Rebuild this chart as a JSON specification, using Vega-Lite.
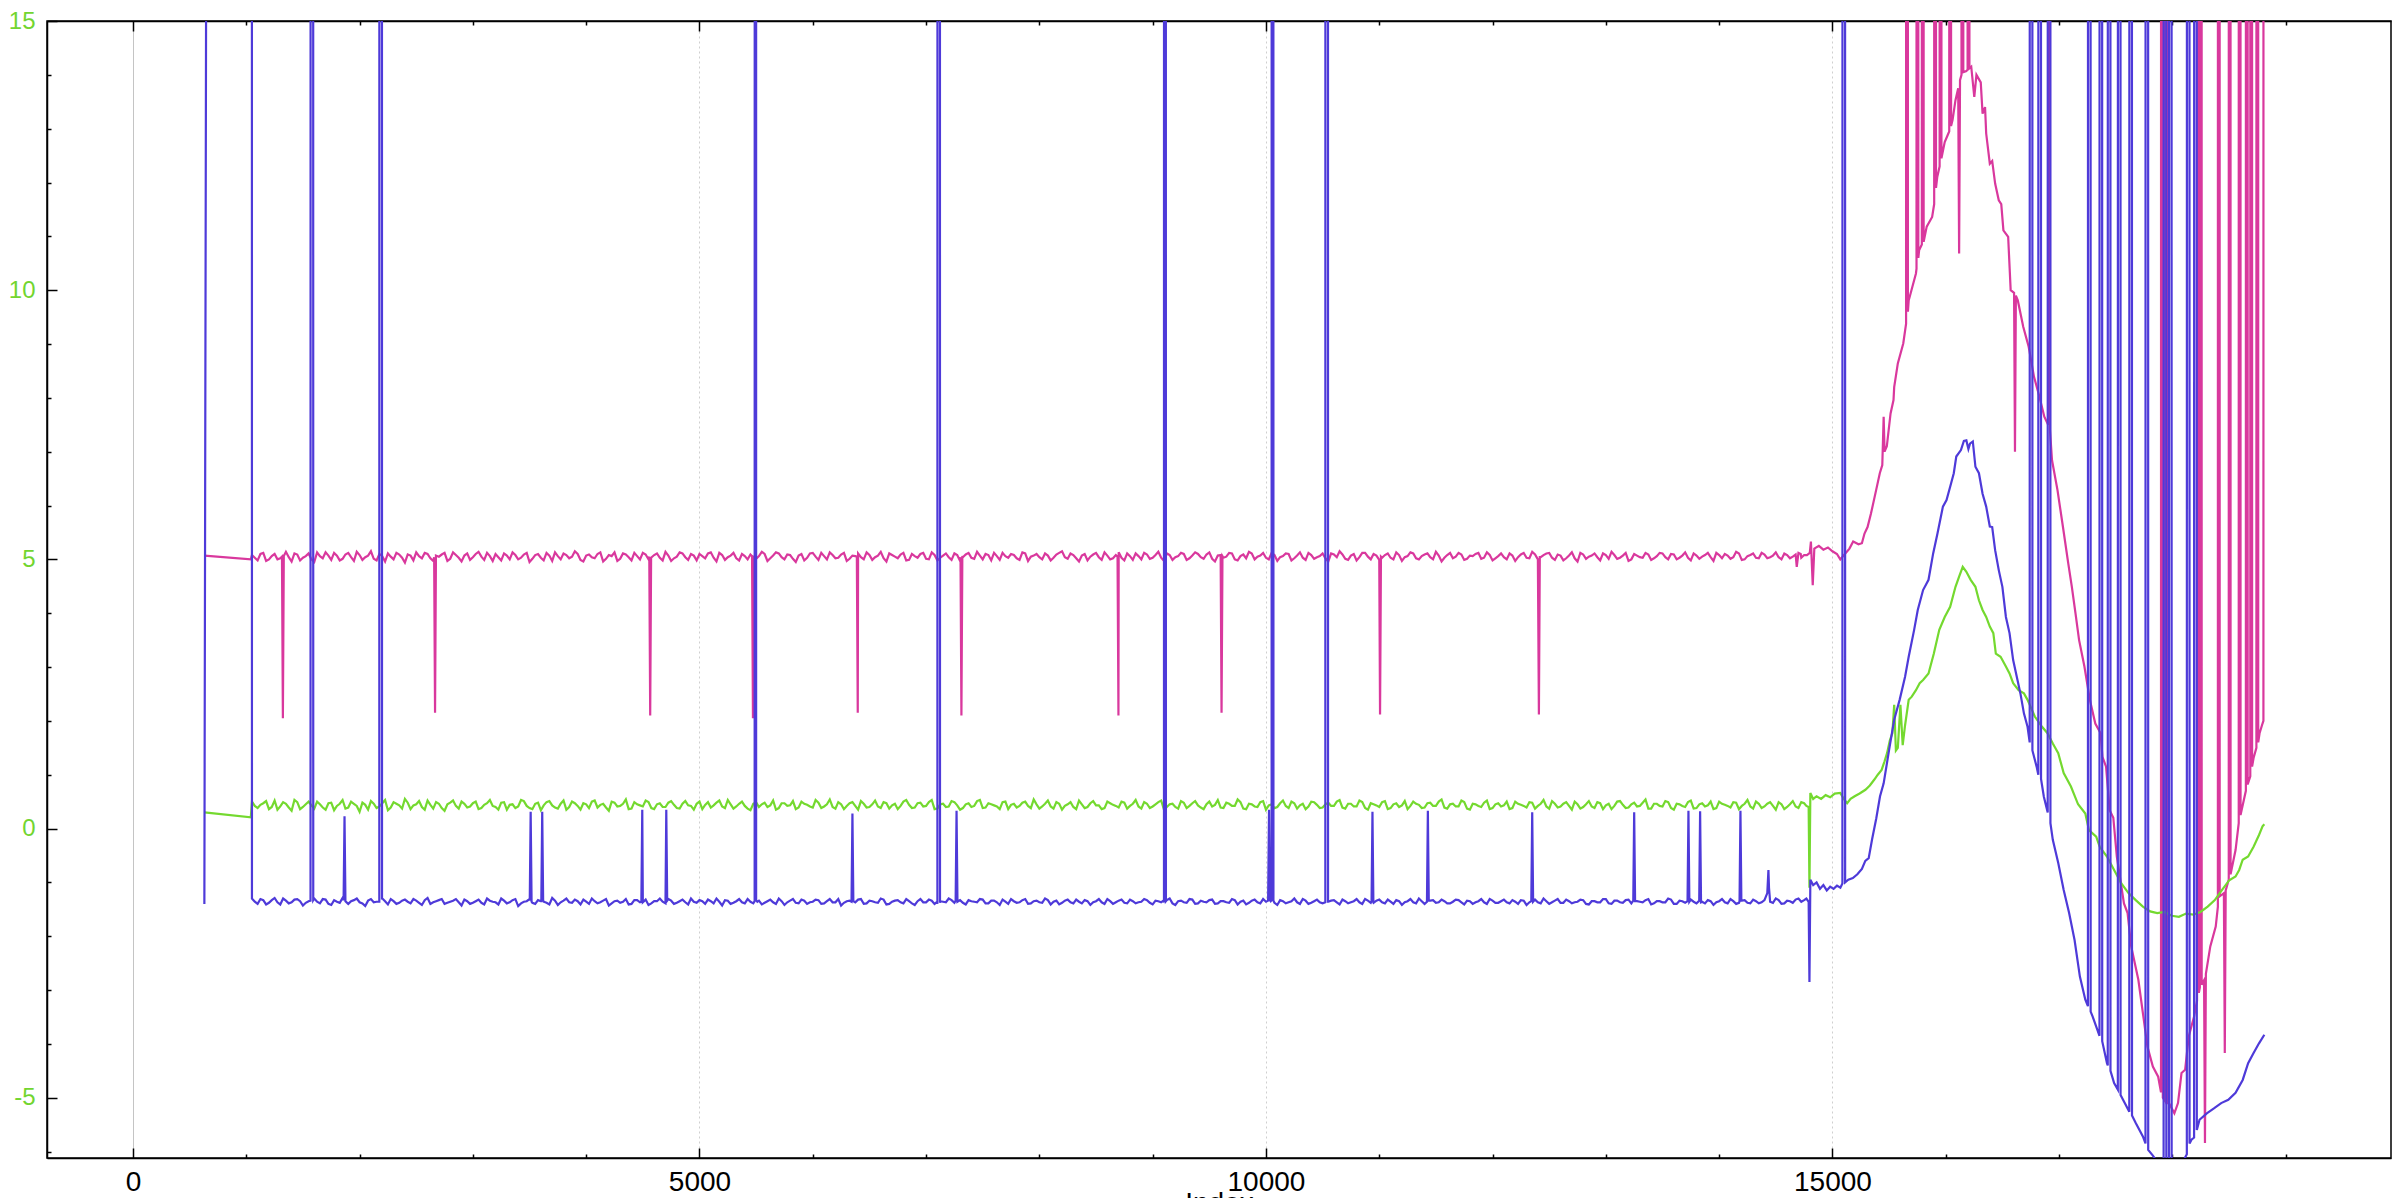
{
  "$schema": "https://vega.github.io/schema/vega-lite/v6.json",
  "width": 2344,
  "height": 1137,
  "autosize": {"type": "none"},
  "padding": {"left": 47, "top": 21, "right": 15, "bottom": 40},
  "background": "white",
  "config": {"view": {"stroke": "black", "strokeWidth": 1.5}, "font": "Liberation Sans"},
  "data": {"values": [
    {"i":630,"p":5.07,"g":0.3,"b":-1.4},{"i":1040,"p":5.0,"g":0.21,"b":450},
    {"i":1050,"p":5.08,"g":0.50,"b":-1.30},{"i":1100,"p":4.98,"g":0.38,"b":-1.40},{"i":1150,"p":5.12,"g":0.47,"b":-1.33},{"i":1200,"p":5.00,"g":0.36,"b":-1.38},{"i":1250,"p":5.10,"g":0.52,"b":-1.29},
    {"i":1300,"p":5.02,"g":0.41,"b":-1.41},{"i":1350,"p":5.14,"g":0.46,"b":-1.34},{"i":1400,"p":4.96,"g":0.33,"b":-1.37},{"i":1450,"p":5.09,"g":0.49,"b":-1.31},{"i":1500,"p":5.03,"g":0.40,"b":-1.43},
    {"i":1550,"p":5.11,"g":0.50,"b":-1.35},{"i":1600,"p":4.95,"g":0.37,"b":-1.30},{"i":1650,"p":5.06,"g":0.45,"b":-1.39},{"i":1700,"p":5.13,"g":0.35,"b":-1.32},{"i":1750,"p":4.99,"g":0.48,"b":-1.42},
    {"i":1800,"p":5.07,"g":0.42,"b":-1.36},{"i":1850,"p":5.01,"g":0.53,"b":-1.29},{"i":1900,"p":5.12,"g":0.39,"b":-1.40},{"i":1950,"p":4.97,"g":0.46,"b":-1.33},{"i":2000,"p":5.08,"g":0.31,"b":-1.37},
    {"i":2050,"p":5.04,"g":0.44,"b":-1.44},{"i":2100,"p":5.15,"g":0.51,"b":-1.31},{"i":2150,"p":4.98,"g":0.38,"b":-1.36},{"i":2200,"p":5.06,"g":0.47,"b":-1.30},{"i":2250,"p":5.11,"g":0.34,"b":-1.41},
    {"i":2300,"p":5.00,"g":0.49,"b":-1.35},{"i":2350,"p":5.09,"g":0.43,"b":-1.38},{"i":2400,"p":4.94,"g":0.55,"b":-1.32},{"i":2450,"p":5.07,"g":0.36,"b":-1.39},{"i":2500,"p":5.13,"g":0.45,"b":-1.34},
    {"i":2550,"p":5.02,"g":0.40,"b":-1.42},{"i":2600,"p":5.10,"g":0.52,"b":-1.29},{"i":2650,"p":4.97,"g":0.37,"b":-1.37},{"i":2700,"p":5.05,"g":0.46,"b":-1.33},{"i":2750,"p":5.12,"g":0.33,"b":-1.40},
    {"i":2800,"p":5.01,"g":0.48,"b":-1.36},{"i":2850,"p":5.08,"g":0.42,"b":-1.31},{"i":2900,"p":4.96,"g":0.50,"b":-1.43},{"i":2950,"p":5.11,"g":0.39,"b":-1.35},{"i":3000,"p":5.04,"g":0.47,"b":-1.38},
    {"i":3050,"p":5.14,"g":0.36,"b":-1.32},{"i":3100,"p":4.99,"g":0.44,"b":-1.41},{"i":3150,"p":5.06,"g":0.53,"b":-1.34},{"i":3200,"p":5.10,"g":0.40,"b":-1.37},{"i":3250,"p":4.98,"g":0.48,"b":-1.30},
    {"i":3300,"p":5.07,"g":0.35,"b":-1.39},{"i":3350,"p":5.13,"g":0.45,"b":-1.33},{"i":3400,"p":5.00,"g":0.41,"b":-1.44},{"i":3450,"p":5.09,"g":0.51,"b":-1.36},{"i":3500,"p":4.95,"g":0.38,"b":-1.31},
    {"i":3550,"p":5.08,"g":0.46,"b":-1.40},{"i":3600,"p":5.03,"g":0.34,"b":-1.35},{"i":3650,"p":5.12,"g":0.49,"b":-1.38},{"i":3700,"p":4.97,"g":0.43,"b":-1.29},{"i":3750,"p":5.06,"g":0.37,"b":-1.42},
    {"i":3800,"p":5.11,"g":0.52,"b":-1.34},{"i":3850,"p":5.02,"g":0.40,"b":-1.37},{"i":3900,"p":5.15,"g":0.47,"b":-1.32},{"i":3950,"p":4.99,"g":0.35,"b":-1.41},{"i":4000,"p":5.07,"g":0.45,"b":-1.36},
    {"i":4050,"p":5.04,"g":0.50,"b":-1.30},{"i":4100,"p":5.10,"g":0.39,"b":-1.39},{"i":4150,"p":4.96,"g":0.46,"b":-1.34},{"i":4200,"p":5.08,"g":0.33,"b":-1.43},{"i":4250,"p":5.13,"g":0.48,"b":-1.35},
    {"i":4300,"p":5.01,"g":0.42,"b":-1.38},{"i":4350,"p":5.09,"g":0.54,"b":-1.31},{"i":4400,"p":4.98,"g":0.37,"b":-1.40},{"i":4450,"p":5.06,"g":0.45,"b":-1.33},{"i":4500,"p":5.12,"g":0.41,"b":-1.37},
    {"i":4550,"p":5.00,"g":0.49,"b":-1.42},{"i":4600,"p":5.08,"g":0.36,"b":-1.35},{"i":4650,"p":5.03,"g":0.47,"b":-1.30},{"i":4700,"p":5.14,"g":0.40,"b":-1.39},{"i":4750,"p":4.97,"g":0.51,"b":-1.34},
    {"i":4800,"p":5.05,"g":0.38,"b":-1.38},{"i":4850,"p":5.11,"g":0.46,"b":-1.32},{"i":4900,"p":4.99,"g":0.43,"b":-1.41},{"i":4950,"p":5.07,"g":0.35,"b":-1.36},{"i":5000,"p":5.10,"g":0.50,"b":-1.33},
    {"i":5050,"p":5.02,"g":0.44,"b":-1.40},{"i":5100,"p":5.13,"g":0.39,"b":-1.35},{"i":5150,"p":4.96,"g":0.48,"b":-1.30},{"i":5200,"p":5.08,"g":0.41,"b":-1.43},{"i":5250,"p":5.04,"g":0.53,"b":-1.34},
    {"i":5300,"p":5.12,"g":0.37,"b":-1.38},{"i":5350,"p":4.98,"g":0.46,"b":-1.31},{"i":5400,"p":5.06,"g":0.42,"b":-1.39},{"i":5450,"p":5.09,"g":0.34,"b":-1.36},{"i":5500,"p":5.01,"g":0.49,"b":-1.33},
    {"i":5550,"p":5.14,"g":0.45,"b":-1.41},{"i":5600,"p":4.97,"g":0.40,"b":-1.35},{"i":5650,"p":5.07,"g":0.52,"b":-1.37},{"i":5700,"p":5.11,"g":0.38,"b":-1.30},{"i":5750,"p":5.00,"g":0.47,"b":-1.42},
    {"i":5800,"p":5.08,"g":0.43,"b":-1.34},{"i":5850,"p":4.95,"g":0.36,"b":-1.38},{"i":5900,"p":5.10,"g":0.50,"b":-1.32},{"i":5950,"p":5.03,"g":0.44,"b":-1.40},{"i":6000,"p":5.12,"g":0.39,"b":-1.36},
    {"i":6050,"p":4.99,"g":0.48,"b":-1.33},{"i":6100,"p":5.06,"g":0.41,"b":-1.39},{"i":6150,"p":5.13,"g":0.54,"b":-1.31},{"i":6200,"p":5.02,"g":0.37,"b":-1.37},{"i":6250,"p":5.09,"g":0.45,"b":-1.43},
    {"i":6300,"p":4.97,"g":0.42,"b":-1.35},{"i":6350,"p":5.07,"g":0.49,"b":0.28},{"i":6400,"p":5.11,"g":0.35,"b":-1.32},{"i":6450,"p":5.00,"g":0.46,"b":-1.40},{"i":6500,"p":5.08,"g":0.40,"b":-1.34},
    {"i":6550,"p":5.04,"g":0.52,"b":-1.37},{"i":6600,"p":5.14,"g":0.38,"b":-1.30},{"i":6650,"p":4.96,"g":0.47,"b":-1.41},{"i":6700,"p":5.08,"g":0.43,"b":-1.36},{"i":6750,"p":5.02,"g":0.36,"b":-1.33},
    {"i":6800,"p":5.12,"g":0.50,"b":-1.39},{"i":6850,"p":4.99,"g":0.44,"b":-1.35},{"i":6900,"p":5.06,"g":0.39,"b":-1.42},{"i":6950,"p":5.10,"g":0.48,"b":-1.31},{"i":7000,"p":5.01,"g":0.42,"b":-1.37},
    {"i":7050,"p":5.13,"g":0.53,"b":-1.34},{"i":7100,"p":4.98,"g":0.37,"b":-1.40},{"i":7150,"p":5.07,"g":0.46,"b":-1.36},{"i":7200,"p":5.04,"g":0.41,"b":-1.30},{"i":7250,"p":5.11,"g":0.49,"b":-1.38},
    {"i":7300,"p":4.97,"g":0.35,"b":-1.33},{"i":7350,"p":5.09,"g":0.45,"b":-1.41},{"i":7400,"p":5.03,"g":0.40,"b":-1.35},{"i":7450,"p":5.14,"g":0.51,"b":-1.37},{"i":7500,"p":5.00,"g":0.38,"b":-1.32},
    {"i":7550,"p":5.08,"g":0.47,"b":-1.39},{"i":7600,"p":5.12,"g":0.43,"b":-1.34},{"i":7650,"p":4.99,"g":0.36,"b":-1.42},{"i":7700,"p":5.06,"g":0.50,"b":-1.36},{"i":7750,"p":5.10,"g":0.44,"b":-1.31},
    {"i":7800,"p":5.02,"g":0.39,"b":-1.38},{"i":7850,"p":5.13,"g":0.48,"b":-1.33},{"i":7900,"p":4.97,"g":0.42,"b":-1.40},{"i":7950,"p":5.07,"g":0.54,"b":-1.35},{"i":8000,"p":5.04,"g":0.37,"b":-1.37},
    {"i":8050,"p":5.11,"g":0.46,"b":-1.30},{"i":8100,"p":4.98,"g":0.41,"b":-1.41},{"i":8150,"p":5.09,"g":0.49,"b":-1.34},{"i":8200,"p":5.15,"g":0.35,"b":-1.38},{"i":8250,"p":5.01,"g":0.45,"b":-1.32},
    {"i":8300,"p":5.08,"g":0.40,"b":-1.39},{"i":8350,"p":4.96,"g":0.52,"b":-1.36},{"i":8400,"p":5.10,"g":0.38,"b":-1.33},{"i":8450,"p":5.05,"g":0.47,"b":-1.42},{"i":8500,"p":5.12,"g":0.43,"b":-1.35},
    {"i":8550,"p":4.99,"g":0.36,"b":-1.37},{"i":8600,"p":5.07,"g":0.50,"b":-1.31},{"i":8650,"p":5.02,"g":0.44,"b":-1.40},{"i":8700,"p":5.13,"g":0.39,"b":-1.34},{"i":8750,"p":4.98,"g":0.48,"b":-1.38},
    {"i":8800,"p":5.06,"g":0.42,"b":-1.32},{"i":8850,"p":5.11,"g":0.53,"b":-1.39},{"i":8900,"p":5.00,"g":0.37,"b":-1.36},{"i":8950,"p":5.09,"g":0.46,"b":-1.33},{"i":9000,"p":5.03,"g":0.41,"b":-1.41},
    {"i":9050,"p":5.14,"g":0.49,"b":-1.35},{"i":9100,"p":4.97,"g":0.35,"b":-1.37},{"i":9150,"p":5.08,"g":0.45,"b":-1.30},{"i":9200,"p":5.04,"g":0.40,"b":-1.42},{"i":9250,"p":5.12,"g":0.51,"b":-1.34},
    {"i":9300,"p":4.99,"g":0.38,"b":-1.38},{"i":9350,"p":5.07,"g":0.47,"b":-1.32},{"i":9400,"p":5.10,"g":0.43,"b":-1.39},{"i":9450,"p":5.01,"g":0.36,"b":-1.36},{"i":9500,"p":5.13,"g":0.50,"b":-1.33},
    {"i":9550,"p":4.96,"g":0.44,"b":-1.40},{"i":9600,"p":5.08,"g":0.39,"b":-1.35},{"i":9650,"p":5.05,"g":0.48,"b":-1.37},{"i":9700,"p":5.11,"g":0.42,"b":-1.31},{"i":9750,"p":4.98,"g":0.54,"b":-1.41},
    {"i":9800,"p":5.09,"g":0.37,"b":-1.34},{"i":9850,"p":5.14,"g":0.46,"b":-1.38},{"i":9900,"p":5.00,"g":0.41,"b":-1.32},{"i":9950,"p":5.07,"g":0.49,"b":-1.39},{"i":10000,"p":5.03,"g":0.35,"b":-1.36},
    {"i":10050,"p":5.12,"g":0.45,"b":-1.33},{"i":10100,"p":4.97,"g":0.40,"b":-1.42},{"i":10150,"p":5.06,"g":0.52,"b":-1.35},{"i":10200,"p":5.10,"g":0.38,"b":-1.37},{"i":10250,"p":5.02,"g":0.47,"b":-1.30},
    {"i":10300,"p":5.13,"g":0.43,"b":-1.40},{"i":10350,"p":4.99,"g":0.36,"b":-1.34},{"i":10400,"p":5.08,"g":0.50,"b":-1.38},{"i":10450,"p":5.04,"g":0.44,"b":-1.32},{"i":10500,"p":5.11,"g":0.39,"b":-1.39},
    {"i":10550,"p":4.96,"g":0.48,"b":-1.36},{"i":10600,"p":5.09,"g":0.42,"b":-1.33},{"i":10650,"p":5.15,"g":0.53,"b":-1.41},{"i":10700,"p":5.01,"g":0.37,"b":-1.35},{"i":10750,"p":5.07,"g":0.46,"b":-1.37},
    {"i":10800,"p":4.98,"g":0.41,"b":-1.31},{"i":10850,"p":5.12,"g":0.49,"b":-1.40},{"i":10900,"p":5.05,"g":0.35,"b":-1.34},{"i":10950,"p":5.10,"g":0.45,"b":-1.38},{"i":11000,"p":4.99,"g":0.40,"b":-1.32},
    {"i":11050,"p":5.08,"g":0.51,"b":-1.39},{"i":11100,"p":5.03,"g":0.38,"b":-1.36},{"i":11150,"p":5.13,"g":0.47,"b":-1.33},{"i":11200,"p":4.97,"g":0.43,"b":-1.42},{"i":11250,"p":5.06,"g":0.36,"b":-1.35},
    {"i":11300,"p":5.11,"g":0.50,"b":-1.37},{"i":11350,"p":5.00,"g":0.44,"b":-1.30},{"i":11400,"p":5.09,"g":0.39,"b":-1.40},{"i":11450,"p":5.04,"g":0.48,"b":-1.34},{"i":11500,"p":5.14,"g":0.42,"b":-1.38},
    {"i":11550,"p":4.96,"g":0.54,"b":-1.32},{"i":11600,"p":5.08,"g":0.37,"b":-1.39},{"i":11650,"p":5.02,"g":0.46,"b":-1.36},{"i":11700,"p":5.12,"g":0.41,"b":-1.33},{"i":11750,"p":4.99,"g":0.49,"b":-1.41},
    {"i":11800,"p":5.07,"g":0.35,"b":-1.35},{"i":11850,"p":5.10,"g":0.45,"b":-1.37},{"i":11900,"p":5.01,"g":0.40,"b":-1.31},{"i":11950,"p":5.13,"g":0.52,"b":-1.40},{"i":12000,"p":4.98,"g":0.38,"b":-1.34},
    {"i":12050,"p":5.06,"g":0.47,"b":-1.38},{"i":12100,"p":5.04,"g":0.43,"b":-1.32},{"i":12150,"p":5.11,"g":0.36,"b":-1.39},{"i":12200,"p":4.97,"g":0.50,"b":-1.36},{"i":12250,"p":5.09,"g":0.44,"b":-1.33},
    {"i":12300,"p":5.03,"g":0.39,"b":-1.42},{"i":12350,"p":5.14,"g":0.48,"b":0.3},{"i":12400,"p":5.00,"g":0.42,"b":-1.37},{"i":12450,"p":5.08,"g":0.53,"b":-1.30},{"i":12500,"p":5.12,"g":0.37,"b":-1.40},
    {"i":12550,"p":4.99,"g":0.46,"b":-1.34},{"i":12600,"p":5.07,"g":0.41,"b":-1.38},{"i":12650,"p":5.02,"g":0.49,"b":-1.32},{"i":12700,"p":5.13,"g":0.35,"b":-1.39},{"i":12750,"p":4.96,"g":0.45,"b":-1.36},
    {"i":12800,"p":5.09,"g":0.40,"b":-1.33},{"i":12850,"p":5.05,"g":0.51,"b":-1.41},{"i":12900,"p":5.11,"g":0.38,"b":-1.35},{"i":12950,"p":4.98,"g":0.47,"b":-1.37},{"i":13000,"p":5.08,"g":0.43,"b":-1.31},
    {"i":13050,"p":5.14,"g":0.36,"b":-1.40},{"i":13100,"p":5.01,"g":0.50,"b":-1.34},{"i":13150,"p":5.07,"g":0.44,"b":-1.38},{"i":13200,"p":4.97,"g":0.39,"b":-1.32},{"i":13250,"p":5.10,"g":0.48,"b":0.3},
    {"i":13300,"p":5.04,"g":0.42,"b":-1.36},{"i":13350,"p":5.12,"g":0.54,"b":-1.33},{"i":13400,"p":4.99,"g":0.37,"b":-1.41},{"i":13450,"p":5.06,"g":0.46,"b":-1.35},{"i":13500,"p":5.11,"g":0.41,"b":-1.37},
    {"i":13550,"p":5.00,"g":0.49,"b":-1.30},{"i":13600,"p":5.09,"g":0.35,"b":-1.40},{"i":13650,"p":5.03,"g":0.45,"b":-1.34},{"i":13700,"p":5.13,"g":0.40,"b":-1.38},{"i":13750,"p":4.98,"g":0.52,"b":-1.32},
    {"i":13800,"p":5.07,"g":0.38,"b":-1.39},{"i":13850,"p":5.05,"g":0.47,"b":-1.36},{"i":13900,"p":5.12,"g":0.43,"b":-1.33},{"i":13950,"p":4.97,"g":0.36,"b":-1.42},{"i":14000,"p":5.08,"g":0.50,"b":-1.35},
    {"i":14050,"p":5.10,"g":0.44,"b":-1.37},{"i":14100,"p":5.01,"g":0.39,"b":-1.31},{"i":14150,"p":5.14,"g":0.48,"b":-1.40},{"i":14200,"p":4.99,"g":0.42,"b":-1.34},{"i":14250,"p":5.06,"g":0.53,"b":-1.38},
    {"i":14300,"p":5.11,"g":0.37,"b":-1.32},{"i":14350,"p":5.02,"g":0.46,"b":-1.39},{"i":14400,"p":5.09,"g":0.41,"b":-1.33},{"i":14450,"p":5.04,"g":0.49,"b":-1.36},{"i":14500,"p":5.13,"g":0.35,"b":-1.30},
    {"i":14550,"p":5.00,"g":0.45,"b":-1.40},{"i":14600,"p":5.08,"g":0.40,"b":-1.34},{"i":14650,"p":5.05,"g":0.51,"b":-1.38},{"i":14700,"p":5.12,"g":0.38,"b":-1.30},{"i":14750,"p":5.08,"g":0.47,"b":-1.33},

    {"i":1075,"p":5.03,"g":0.42,"b":-1.36},{"i":1125,"p":5.10,"g":0.44,"b":-1.31},{"i":1175,"p":4.97,"g":0.51,"b":-1.41},{"i":1225,"p":5.06,"g":0.40,"b":-1.33},{"i":1275,"p":5.00,"g":0.35,"b":-1.37},
    {"i":1325,"g":0.49,"b":-1.30},{"i":1375,"p":5.04,"g":0.39,"b":-1.39},{"i":1425,"p":5.11,"g":0.53,"b":-1.32},{"i":1475,"p":4.98,"g":0.36,"b":-1.35},{"i":1525,"p":5.06,"g":0.45,"b":-1.38},
    {"i":1575,"p":5.00,"g":0.43},{"i":1625,"p":5.13,"g":0.50,"b":-1.36},{"i":1675,"p":5.02,"g":0.39,"b":-1.31},{"i":1725,"p":5.07,"g":0.47,"b":-1.40},{"i":1775,"p":5.12,"g":0.34,"b":-1.33},
    {"i":1825,"p":4.98,"g":0.46,"b":-1.38},{"i":1875,"p":5.09,"g":0.37},{"i":1925,"p":5.04,"g":0.50,"b":-1.35},{"i":1975,"p":5.14,"g":0.42,"b":-1.30},{"i":2025,"p":4.99,"g":0.48,"b":-1.39},
    {"i":2075,"p":5.07,"g":0.35,"b":-1.34},{"i":2125,"p":5.01,"g":0.46,"b":-1.37},{"i":2175,"p":5.10,"g":0.41},{"i":2225,"p":4.96,"g":0.53,"b":-1.35},{"i":2275,"p":5.05,"g":0.39,"b":-1.31},
    {"i":2325,"p":5.12,"g":0.46,"b":-1.40},{"i":2375,"p":5.03,"g":0.37,"b":-1.34},{"i":2425,"p":5.09,"g":0.48,"b":-1.36},{"i":2475,"p":4.98,"g":0.43,"b":-1.31},{"i":2525,"p":5.06,"g":0.51,"b":-1.38},
    {"i":2575,"p":5.12,"g":0.35,"b":-1.33},{"i":2625,"p":5.02,"g":0.44,"b":-1.40},{"i":2675,"g":0.49,"b":-1.35},{"i":2725,"p":5.09,"g":0.38,"b":-1.31},{"i":2775,"p":4.97,"g":0.45,"b":-1.38},
    {"i":2825,"p":5.13,"g":0.52,"b":-1.34},{"i":2875,"p":5.03,"g":0.37,"b":-1.37},{"i":2925,"p":5.07,"g":0.46,"b":-1.32},{"i":2975,"p":4.99,"g":0.41,"b":-1.40},{"i":3025,"p":5.10,"g":0.50,"b":-1.35},
    {"i":3075,"p":5.05,"g":0.38,"b":-1.38},{"i":3125,"p":5.12,"g":0.47,"b":-1.30},{"i":3175,"p":4.97,"g":0.42,"b":-1.36},{"i":3225,"p":5.04,"g":0.35,"b":-1.41},{"i":3275,"p":5.11,"g":0.49,"b":-1.34},
    {"i":3325,"p":5.00,"g":0.44,"b":-1.37},{"i":3375,"p":5.08,"g":0.38,"b":-1.31},{"i":3425,"p":5.03,"g":0.53,"b":-1.39},{"i":3475,"p":5.12,"g":0.42,"b":-1.35},{"i":3525,"p":5.01,"g":0.36,"b":-1.38},
    {"i":3575,"p":5.10,"g":0.48,"b":-1.33},{"i":3625,"p":4.98,"g":0.43,"b":-1.36},{"i":3675,"p":5.07,"g":0.51,"b":-1.41},{"i":3725,"p":5.13,"g":0.39,"b":-1.34},{"i":3775,"p":5.00,"g":0.46,"b":-1.37},
    {"i":3825,"p":5.08,"g":0.35,"b":-1.30},{"i":3875,"p":5.05,"g":0.50,"b":-1.38},{"i":3925,"p":5.10,"g":0.42,"b":-1.35},{"i":3975,"p":4.96,"g":0.47,"b":-1.32},{"i":4025,"p":5.09,"g":0.38,"b":-1.40},
    {"i":4075,"p":5.02,"g":0.52,"b":-1.35},{"i":4125,"p":5.13,"g":0.44,"b":-1.37},{"i":4175,"p":5.01,"g":0.39,"b":-1.31},{"i":4225,"p":5.06,"g":0.50,"b":-1.39},{"i":4275,"p":4.97,"g":0.41,"b":-1.34},
    {"i":4325,"p":5.11,"g":0.46,"b":-1.36},{"i":4375,"p":5.04,"g":0.36,"b":-1.41},{"i":4425,"p":5.12,"g":0.49,"b":-1.33},{"i":4475,"p":5.00,"g":0.43,"b":-1.37},{"i":4525,"p":5.09,"g":0.52,"b":-1.32},
    {"i":4575,"g":0.38,"b":-1.39},{"i":4625,"p":5.11,"g":0.45,"b":-1.35},{"i":4675,"p":4.98,"g":0.40,"b":-1.36},{"i":4725,"p":5.07,"g":0.48,"b":-1.31},{"i":4775,"p":5.02,"g":0.44,"b":-1.40},
    {"i":4825,"p":5.13,"g":0.37,"b":-1.35},{"i":4875,"p":5.04,"g":0.51,"b":-1.37},{"i":4925,"p":5.10,"g":0.42,"b":-1.30},{"i":4975,"p":4.98,"g":0.46,"b":-1.38},{"i":5025,"p":5.06,"g":0.36,"b":-1.35},
    {"i":5075,"p":5.11,"g":0.49,"b":-1.32},{"i":5125,"p":5.03,"g":0.43,"b":-1.39},{"i":5175,"p":5.12,"g":0.52,"b":-1.36},{"i":5225,"p":4.99,"g":0.38,"b":-1.33},{"i":5275,"p":5.07,"g":0.45,"b":-1.40},
    {"i":5325,"p":5.02,"g":0.41,"b":-1.35},{"i":5375,"p":5.10,"g":0.50,"b":-1.37},{"i":5425,"p":5.00,"g":0.37,"b":-1.31},{"i":5475,"g":0.46,"b":-1.39},{"i":5525,"p":5.06,"g":0.40,"b":-1.34},
    {"i":5575,"p":5.10,"g":0.48,"b":-1.38},{"i":5625,"p":5.02,"g":0.43,"b":-1.32},{"i":5675,"p":5.13,"g":0.35,"b":-1.40},{"i":5725,"p":5.04,"g":0.47,"b":-1.35},{"i":5775,"p":5.09,"g":0.42,"b":-1.37},
    {"i":5825,"p":5.01,"g":0.51,"b":-1.31},{"i":5875,"p":5.07,"g":0.39,"b":-1.39},{"i":5925,"p":4.98,"g":0.46,"b":-1.34},{"i":5975,"p":5.11,"g":0.41,"b":-1.37},{"i":6025,"p":5.05,"g":0.53,"b":-1.32},
    {"i":6075,"p":5.12,"g":0.38,"b":-1.40},{"i":6125,"p":5.00,"g":0.45,"b":-1.35},{"i":6175,"p":5.08,"g":0.40,"b":-1.37},{"i":6225,"p":5.03,"g":0.49,"b":-1.31},{"i":6275,"p":5.12,"g":0.36,"b":-1.38},
    {"i":6325,"p":5.01,"g":0.47,"b":-1.34},{"i":6375,"p":5.06,"g":0.42,"b":-1.37},{"i":6425,"p":5.04,"g":0.51,"b":-1.31},{"i":6475,"p":5.13,"g":0.39,"b":-1.39},{"i":6525,"p":4.99,"g":0.45,"b":-1.35},
    {"i":6575,"p":5.07,"g":0.41,"b":-1.38},{"i":6625,"p":5.02,"g":0.49,"b":-1.32},{"i":6675,"p":5.11,"g":0.37,"b":-1.40},{"i":6725,"p":5.05,"g":0.46,"b":-1.34},{"i":6775,"p":5.09,"g":0.42,"b":-1.37},
    {"i":6825,"p":4.98,"g":0.53,"b":-1.31},{"i":6875,"p":5.10,"g":0.38,"b":-1.39},{"i":6925,"p":5.03,"g":0.47,"b":-1.35},{"i":6975,"p":5.12,"g":0.41,"b":-1.37},{"i":7025,"p":5.00,"g":0.49,"b":-1.32},
    {"i":7075,"p":5.08,"g":0.36,"b":-1.40},{"i":7125,"p":5.03,"g":0.45,"b":-1.35},{"i":7175,"p":5.11,"g":0.40,"b":-1.37},{"i":7225,"p":4.99,"g":0.51,"b":-1.33},{"i":7275,"p":5.08,"g":0.43},
    {"i":7325,"p":5.04,"g":0.38,"b":-1.38},{"i":7375,"p":5.12,"g":0.47,"b":-1.33},{"i":7425,"p":5.01,"g":0.42,"b":-1.36},{"i":7475,"p":5.07,"g":0.53,"b":-1.31},{"i":7525,"p":5.10,"g":0.39,"b":-1.39},
    {"i":7575,"p":4.98,"g":0.45,"b":-1.34},{"i":7625,"p":5.06,"g":0.41,"b":-1.37},{"i":7675,"p":5.12,"g":0.49,"b":-1.32},{"i":7725,"p":5.03,"g":0.36,"b":-1.40},{"i":7775,"p":5.08,"g":0.46,"b":-1.35},
    {"i":7825,"p":4.99,"g":0.42,"b":-1.37},{"i":7875,"p":5.11,"g":0.50,"b":-1.31},{"i":7925,"p":5.05,"g":0.38,"b":-1.39},{"i":7975,"p":5.10,"g":0.45,"b":-1.34},{"i":8025,"p":5.00,"g":0.41,"b":-1.38},
    {"i":8075,"p":5.07,"g":0.52,"b":-1.33},{"i":8125,"p":5.03,"g":0.37,"b":-1.36},{"i":8175,"p":5.12,"g":0.46,"b":-1.41},{"i":8225,"p":5.04,"g":0.42,"b":-1.34},{"i":8275,"p":5.11,"g":0.49,"b":-1.37},
    {"i":8325,"p":5.02,"g":0.36,"b":-1.32},{"i":8375,"p":5.07,"g":0.45,"b":-1.39},{"i":8425,"p":4.98,"g":0.40,"b":-1.35},{"i":8475,"p":5.09,"g":0.51,"b":-1.37},{"i":8525,"p":5.04,"g":0.43,"b":-1.31},
    {"i":8575,"p":5.13,"g":0.38,"b":-1.40},{"i":8625,"p":5.00,"g":0.47,"b":-1.35},{"i":8675,"p":5.08,"g":0.42,"b":-1.37},{"i":8725,"p":5.03,"g":0.50,"b":-1.32},{"i":8775,"p":5.11,"g":0.37,"b":-1.39},
    {"i":8825,"p":4.99,"g":0.46,"b":-1.35},{"i":8875,"p":5.06,"g":0.41,"b":-1.37},{"i":8925,"p":5.12,"g":0.49,"b":-1.31},{"i":8975,"p":5.01,"g":0.38,"b":-1.38},{"i":9025,"p":5.08,"g":0.45,"b":-1.34},
    {"i":9075,"p":5.03,"g":0.52,"b":-1.37},{"i":9125,"p":5.11,"g":0.40,"b":-1.33},{"i":9175,"p":4.99,"g":0.46,"b":-1.39},{"i":9225,"p":5.06,"g":0.37,"b":-1.35},{"i":9275,"p":5.10,"g":0.48,"b":-1.37},
    {"i":9325,"p":5.02,"g":0.42,"b":-1.31},{"i":9375,"p":5.13,"g":0.51,"b":-1.40},{"i":9425,"p":5.04,"g":0.39,"b":-1.34},{"i":9475,"p":5.09,"g":0.45,"b":-1.37},{"i":9525,"p":5.01,"g":0.41,"b":-1.32},
    {"i":9575,"p":5.07,"g":0.53,"b":-1.39},{"i":9625,"p":5.03,"g":0.38,"b":-1.35},{"i":9675,"p":5.12,"g":0.46,"b":-1.38},{"i":9725,"p":5.00,"g":0.42,"b":-1.33},{"i":9775,"p":5.06,"g":0.49,"b":-1.36},
    {"i":9825,"p":5.02,"g":0.36,"b":-1.41},{"i":9875,"p":5.11,"g":0.45,"b":-1.34},{"i":9925,"p":5.05,"g":0.40,"b":-1.37},{"i":9975,"p":5.12,"g":0.51,"b":-1.31},{"i":10025,"p":5.00,"g":0.43},
    {"i":10075,"p":5.08,"g":0.38,"b":-1.38},{"i":10125,"p":5.04,"g":0.47,"b":-1.33},{"i":10175,"p":5.11,"g":0.42,"b":-1.39},{"i":10225,"p":4.98,"g":0.50,"b":-1.35},{"i":10275,"p":5.07,"g":0.37,"b":-1.37},
    {"i":10325,"p":5.03,"g":0.46,"b":-1.31},{"i":10375,"p":5.12,"g":0.41,"b":-1.40},{"i":10425,"p":5.01,"g":0.49,"b":-1.35},{"i":10475,"p":5.06,"g":0.38,"b":-1.37},{"i":10525,"p":5.02,"g":0.45},
    {"i":10575,"p":5.11,"g":0.42,"b":-1.34},{"i":10625,"p":5.04,"g":0.50,"b":-1.37},{"i":10675,"p":5.09,"g":0.39,"b":-1.32},{"i":10725,"p":4.99,"g":0.46,"b":-1.39},{"i":10775,"p":5.10,"g":0.41,"b":-1.35},
    {"i":10825,"p":5.04,"g":0.52,"b":-1.37},{"i":10875,"p":5.12,"g":0.38,"b":-1.31},{"i":10925,"p":5.00,"g":0.47,"b":-1.38},{"i":10975,"p":5.07,"g":0.43,"b":-1.34},{"i":11025,"p":5.03,"g":0.49,"b":-1.37},
    {"i":11075,"p":5.11,"g":0.36,"b":-1.32},{"i":11125,"p":5.00,"g":0.45,"b":-1.40},{"i":11175,"p":5.08,"g":0.40,"b":-1.35},{"i":11225,"p":5.04,"g":0.51,"b":-1.37},{"i":11275,"p":5.13,"g":0.42,"b":-1.31},
    {"i":11325,"p":5.02,"g":0.46,"b":-1.39},{"i":11375,"p":5.06,"g":0.38,"b":-1.35},{"i":11425,"p":5.11,"g":0.47},{"i":11475,"p":5.00,"g":0.42,"b":-1.33},{"i":11525,"p":5.07,"g":0.50,"b":-1.37},
    {"i":11575,"p":5.03,"g":0.39,"b":-1.35},{"i":11625,"p":5.12,"g":0.45,"b":-1.39},{"i":11675,"p":5.05,"g":0.41,"b":-1.32},{"i":11725,"p":5.09,"g":0.52,"b":-1.37},{"i":11775,"p":5.01,"g":0.37,"b":-1.34},
    {"i":11825,"p":5.06,"g":0.46,"b":-1.40},{"i":11875,"p":5.12,"g":0.42,"b":-1.35},{"i":11925,"p":5.03,"g":0.48,"b":-1.37},{"i":11975,"p":5.08,"g":0.36,"b":-1.31},{"i":12025,"p":5.02,"g":0.45,"b":-1.38},
    {"i":12075,"p":5.11,"g":0.41,"b":-1.35},{"i":12125,"p":5.00,"g":0.50,"b":-1.37},{"i":12175,"p":5.07,"g":0.38,"b":-1.33},{"i":12225,"p":5.04,"g":0.46,"b":-1.40},{"i":12275,"p":5.12,"g":0.42,"b":-1.34},
    {"i":12325,"p":5.02,"g":0.49,"b":-1.37},{"i":12375,"p":5.09,"g":0.37,"b":-1.32},{"i":12425,"p":5.04,"g":0.46,"b":-1.39},{"i":12475,"p":5.11,"g":0.41,"b":-1.35},{"i":12525,"p":5.03,"g":0.51,"b":-1.37},
    {"i":12575,"p":5.09,"g":0.39,"b":-1.31},{"i":12625,"p":4.98,"g":0.46,"b":-1.38},{"i":12675,"p":5.07,"g":0.42,"b":-1.35},{"i":12725,"p":5.02,"g":0.50,"b":-1.37},{"i":12775,"p":5.12,"g":0.37,"b":-1.32},
    {"i":12825,"p":5.01,"g":0.45,"b":-1.40},{"i":12875,"p":5.07,"g":0.41,"b":-1.35},{"i":12925,"p":5.04,"g":0.49,"b":-1.37},{"i":12975,"p":5.11,"g":0.36,"b":-1.31},{"i":13025,"p":5.01,"g":0.46,"b":-1.39},
    {"i":13075,"p":5.08,"g":0.42,"b":-1.34},{"i":13125,"p":5.03,"g":0.51,"b":-1.37},{"i":13175,"p":5.12,"g":0.38,"b":-1.33},{"i":13225,"p":5.00,"g":0.45,"b":-1.39},{"i":13275,"p":5.07,"g":0.41,"b":-1.35},
    {"i":13325,"p":5.03,"g":0.48,"b":-1.37},{"i":13375,"p":5.09,"g":0.37,"b":-1.31},{"i":13425,"p":5.02,"g":0.46,"b":-1.39},{"i":13475,"p":5.12,"g":0.42,"b":-1.35},{"i":13525,"p":5.04,"g":0.51,"b":-1.37},
    {"i":13575,"p":5.10,"g":0.38,"b":-1.32},{"i":13625,"p":5.00,"g":0.46,"b":-1.40},{"i":13675,"p":5.07,"g":0.42,"b":-1.35},{"i":13725,"p":5.03,"g":0.49},{"i":13775,"p":5.11,"g":0.37,"b":-1.36},
    {"i":13825,"p":5.01,"g":0.45},{"i":13875,"p":5.08,"g":0.41,"b":-1.39},{"i":13925,"p":5.04,"g":0.50,"b":-1.35},{"i":13975,"p":5.12,"g":0.38,"b":-1.37},{"i":14025,"p":5.02,"g":0.46,"b":-1.31},
    {"i":14075,"p":5.07,"g":0.42,"b":-1.39},{"i":14125,"p":5.04,"g":0.49,"b":-1.35},{"i":14175,"p":5.11,"g":0.36,"b":-1.38},{"i":14225,"p":5.00,"g":0.46,"b":-1.33},{"i":14275,"p":5.08,"g":0.41,"b":-1.39},
    {"i":14325,"p":5.03,"g":0.50,"b":-1.35},{"i":14375,"p":5.12,"g":0.38,"b":-1.37},{"i":14425,"p":5.02,"g":0.46},{"i":14475,"p":5.07,"g":0.42,"b":-1.38},{"i":14525,"p":5.04,"g":0.49,"b":-1.33},
    {"i":14575,"p":5.11,"g":0.36,"b":-1.39},{"i":14625,"p":5.02,"g":0.45,"b":-1.35},{"i":14675,"p":5.09,"g":0.41,"b":-1.32},{"i":14725,"p":5.03,"g":0.49,"b":-1.36},

    {"i":1567,"b":-1.34},{"i":1579,"b":450},{"i":1591,"b":-1.33},
    {"i":2174,"b":-1.36},{"i":2186,"b":450},{"i":2198,"b":-1.32},
    {"i":5487,"b":-1.35},{"i":5499,"b":450},{"i":5511,"b":-1.36},
    {"i":7099,"b":-1.36},{"i":7111,"b":450},{"i":7123,"b":-1.38},
    {"i":9093,"b":-1.34},{"i":9105,"b":450},{"i":9117,"b":-1.35},
    {"i":10042,"b":-1.35},{"i":10054,"b":450},{"i":10066,"b":-1.34},
    {"i":10524,"b":-1.37},{"i":10536,"b":450},{"i":10548,"b":-1.36},

    {"i":1859,"b":-1.33},{"i":1867,"b":0.23},{"i":1875,"b":-1.35},
    {"i":3502,"b":-1.34},{"i":3510,"b":0.31},{"i":3518,"b":-1.36},
    {"i":3604,"b":-1.35},{"i":3612,"b":0.31},{"i":3620,"b":-1.33},
    {"i":4487,"b":-1.36},{"i":4495,"b":0.35},
    {"i":4707,"b":0.35},{"i":4715,"b":-1.34},
    {"i":6342,"b":-1.36},{"i":6358,"b":-1.35},
    {"i":7261,"b":-1.34},{"i":7269,"b":0.33},{"i":7277,"b":-1.36},
    {"i":10019,"b":-1.34},{"i":10027,"b":0.35},{"i":10035,"b":-1.33},
    {"i":10932,"b":-1.35},{"i":10940,"b":0.31},{"i":10948,"b":-1.37},
    {"i":11421,"b":-1.36},{"i":11429,"b":0.33},{"i":11437,"b":-1.34},
    {"i":12342,"b":-1.35},{"i":12358,"b":-1.36},
    {"i":13242,"b":-1.34},{"i":13258,"b":-1.35},
    {"i":13721,"b":-1.35},{"i":13729,"b":0.33},{"i":13737,"b":-1.36},
    {"i":13824,"b":-1.34},{"i":13832,"b":0.32},{"i":13840,"b":-1.37},
    {"i":14180,"b":-1.35},{"i":14188,"b":0.33},{"i":14196,"b":-1.34},
    {"i":14425,"b":-1.2},{"i":14435,"b":-0.77},{"i":14440,"b":-1.1},

    {"i":1315,"p":5.05},{"i":1323,"p":2.05},{"i":1331,"p":5.06},
    {"i":2658,"p":5.04},{"i":2666,"p":2.15},{"i":2674,"p":5.07},
    {"i":4557,"p":5.05},{"i":4565,"p":2.1},{"i":4573,"p":5.03},
    {"i":5464,"p":5.06},{"i":5472,"p":2.05},{"i":5480,"p":5.04},
    {"i":6389,"p":5.05},{"i":6397,"p":2.15},
    {"i":7304,"p":5.04},{"i":7312,"p":2.1},{"i":7320,"p":5.06},
    {"i":8690,"p":5.05},{"i":8698,"p":2.1},
    {"i":9608,"p":2.15},{"i":9616,"p":5.06},
    {"i":11007,"p":2.12},{"i":11015,"p":5.05},
    {"i":12409,"p":2.12},{"i":12417,"p":5.04},

    {"i":14770,"b":-1.30},{"i":14790,"b":-1.36},{"i":14797,"b":-2.85},{"i":14805,"b":-0.95},{"i":14830,"b":-1.05},{"i":14860,"b":-1.0},{"i":14890,"b":-1.12},{"i":14920,"b":-1.05},
    {"i":14950,"b":-1.15},{"i":14980,"b":-1.08},{"i":15010,"b":-1.12},{"i":15040,"b":-1.06},{"i":15070,"b":-1.1},{"i":15088,"b":-1.02},{"i":15100,"b":450},{"i":15112,"b":-1.0},
    {"i":15140,"b":-0.95},{"i":15180,"b":-0.92},{"i":15220,"b":-0.85},{"i":15260,"b":-0.75},{"i":15290,"b":-0.6},{"i":15320,"b":-0.55},{"i":15350,"b":-0.2},{"i":15387,"b":0.19},
    {"i":15420,"b":0.6},{"i":15452,"b":0.84},{"i":15500,"b":1.46},{"i":15545,"b":2.02},{"i":15593,"b":2.39},{"i":15641,"b":2.82},{"i":15673,"b":3.19},{"i":15721,"b":3.69},
    {"i":15753,"b":4.06},{"i":15800,"b":4.43},{"i":15848,"b":4.62},{"i":15889,"b":5.11},{"i":15927,"b":5.48},{"i":15975,"b":5.98},{"i":16007,"b":6.10},{"i":16039,"b":6.35},
    {"i":16071,"b":6.60},{"i":16093,"b":6.91},{"i":16134,"b":7.03},{"i":16160,"b":7.2},{"i":16182,"b":7.21},{"i":16200,"b":7.05},{"i":16214,"b":7.15},{"i":16239,"b":7.19},
    {"i":16262,"b":6.72},{"i":16293,"b":6.60},{"i":16325,"b":6.22},{"i":16357,"b":5.98},{"i":16389,"b":5.61},{"i":16410,"b":5.6},{"i":16436,"b":5.17},{"i":16468,"b":4.80},
    {"i":16500,"b":4.49},{"i":16531,"b":3.93},{"i":16563,"b":3.63},{"i":16595,"b":3.13},{"i":16627,"b":2.82},{"i":16659,"b":2.51},{"i":16690,"b":2.14},{"i":16722,"b":1.89},
    {"i":16741,"b":1.6},{"i":16753,"b":450},{"i":16765,"b":1.45},{"i":16802,"b":1.15},{"i":16817,"b":1.0},{"i":16829,"b":450},{"i":16841,"b":0.92},{"i":16866,"b":0.59},
    {"i":16900,"b":0.3},{"i":16912,"b":450},{"i":16924,"b":0.1},{"i":16945,"b":-0.21},{"i":16993,"b":-0.64},{"i":17041,"b":-1.14},{"i":17089,"b":-1.57},{"i":17137,"b":-2.07},
    {"i":17184,"b":-2.75},{"i":17232,"b":-3.18},{"i":17255,"b":-3.3},{"i":17267,"b":450},{"i":17279,"b":-3.4},{"i":17296,"b":-3.49},{"i":17340,"b":-3.75},{"i":17357,"b":-3.85},
    {"i":17369,"b":450},{"i":17381,"b":-3.95},{"i":17423,"b":-4.36},{"i":17430,"b":-4.4},{"i":17442,"b":450},{"i":17454,"b":-4.5},{"i":17486,"b":-4.73},{"i":17519,"b":-4.85},
    {"i":17531,"b":450},{"i":17543,"b":-4.95},{"i":17580,"b":-5.1},{"i":17620,"b":-5.26},{"i":17632,"b":450},{"i":17644,"b":-5.33},{"i":17677,"b":-5.47},{"i":17740,"b":-5.72},
    {"i":17763,"b":-5.85},{"i":17775,"b":450},{"i":17787,"b":-5.97},{"i":17830,"b":-6.08},{"i":17867,"b":-6.2},{"i":17923,"b":-6.4},{"i":17935,"b":450},{"i":17947,"b":-6.45},
    {"i":17970,"b":-6.5},{"i":17982,"b":450},{"i":17994,"b":-6.45},{"i":18040,"b":-6.35},{"i":18090,"b":-6.2},{"i":18128,"b":-6.05},{"i":18140,"b":450},{"i":18152,"b":-5.85},
    {"i":18169,"b":-5.78},{"i":18192,"b":-5.74},{"i":18204,"b":450},{"i":18216,"b":-5.6},{"i":18240,"b":-5.41},{"i":18304,"b":-5.29},{"i":18367,"b":-5.2},{"i":18431,"b":-5.10},
    {"i":18494,"b":-5.04},{"i":18558,"b":-4.91},{"i":18621,"b":-4.67},{"i":18669,"b":-4.36},{"i":18717,"b":-4.17},{"i":18765,"b":-3.99},{"i":18812,"b":-3.83},

    {"i":14685,"p":4.86},{"i":14720,"p":5.1},{"i":14775,"p":5.08},{"i":14800,"p":5.12},{"i":14810,"p":5.33},{"i":14826,"p":4.52},{"i":14840,"p":5.2},{"i":14880,"p":5.25},
    {"i":14920,"p":5.18},{"i":14960,"p":5.22},{"i":15000,"p":5.15},{"i":15040,"p":5.1},{"i":15069,"p":5.0},{"i":15110,"p":5.1},{"i":15150,"p":5.2},{"i":15183,"p":5.33},
    {"i":15230,"p":5.28},{"i":15260,"p":5.3},{"i":15283,"p":5.48},{"i":15310,"p":5.6},{"i":15340,"p":5.85},{"i":15387,"p":6.3},{"i":15418,"p":6.6},{"i":15440,"p":6.75},
    {"i":15452,"p":7.65},{"i":15460,"p":7.0},{"i":15480,"p":7.1},{"i":15513,"p":7.71},{"i":15539,"p":7.96},{"i":15545,"p":8.2},{"i":15577,"p":8.64},{"i":15625,"p":9.01},
    {"i":15650,"p":9.38},{"i":15658,"p":450},{"i":15666,"p":9.6},{"i":15673,"p":9.81},{"i":15705,"p":10.06},{"i":15737,"p":10.31},{"i":15742,"p":10.4},{"i":15750,"p":450},
    {"i":15758,"p":10.6},{"i":15765,"p":10.74},{"i":15789,"p":10.85},{"i":15797,"p":450},{"i":15805,"p":10.9},{"i":15832,"p":11.18},{"i":15880,"p":11.36},{"i":15898,"p":11.6},
    {"i":15906,"p":450},{"i":15914,"p":11.9},{"i":15925,"p":12.1},{"i":15946,"p":12.3},{"i":15954,"p":450},{"i":15962,"p":12.45},{"i":15991,"p":12.75},{"i":16023,"p":12.91},
    {"i":16031,"p":12.95},{"i":16039,"p":450},{"i":16047,"p":13.05},{"i":16060,"p":13.16},{"i":16086,"p":13.53},{"i":16110,"p":13.75},{"i":16118,"p":10.68},{"i":16126,"p":13.9},
    {"i":16139,"p":14.0},{"i":16147,"p":450},{"i":16155,"p":14.05},{"i":16182,"p":14.07},{"i":16193,"p":14.1},{"i":16201,"p":450},{"i":16209,"p":14.12},{"i":16225,"p":14.15},
    {"i":16252,"p":13.59},{"i":16271,"p":14.0},{"i":16309,"p":13.86},{"i":16325,"p":13.28},{"i":16347,"p":13.4},{"i":16357,"p":12.91},{"i":16389,"p":12.35},{"i":16410,"p":12.4},
    {"i":16436,"p":11.98},{"i":16468,"p":11.67},{"i":16490,"p":11.6},{"i":16509,"p":11.11},{"i":16551,"p":10.99},{"i":16573,"p":10.0},{"i":16603,"p":9.95},{"i":16611,"p":7.0},
    {"i":16619,"p":9.9},{"i":16636,"p":9.81},{"i":16684,"p":9.32},{"i":16732,"p":8.95},{"i":16779,"p":8.39},{"i":16827,"p":8.02},{"i":16870,"p":7.65},{"i":16904,"p":7.5},
    {"i":16912,"p":450},{"i":16920,"p":7.4},{"i":16938,"p":6.84},{"i":16986,"p":6.29},{"i":17034,"p":5.61},{"i":17081,"p":4.93},{"i":17113,"p":4.49},{"i":17145,"p":4.0},
    {"i":17177,"p":3.5},{"i":17224,"p":3.01},{"i":17272,"p":2.39},{"i":17320,"p":1.95},{"i":17367,"p":1.77},{"i":17383,"p":1.33},{"i":17415,"p":1.15},{"i":17447,"p":0.34},
    {"i":17479,"p":0.2},{"i":17510,"p":-0.52},{"i":17573,"p":-1.39},{"i":17605,"p":-1.57},{"i":17637,"p":-2.19},{"i":17700,"p":-2.81},{"i":17748,"p":-3.55},{"i":17780,"p":-4.05},
    {"i":17828,"p":-4.42},{"i":17875,"p":-4.61},{"i":17900,"p":-4.9},{"i":17908,"p":450},{"i":17916,"p":-5.0},{"i":17932,"p":-5.05},{"i":17940,"p":450},{"i":17948,"p":-5.1},
    {"i":17955,"p":-5.1},{"i":17962,"p":450},{"i":17970,"p":-5.1},{"i":18018,"p":-5.29},{"i":18050,"p":-5.1},{"i":18081,"p":-4.54},{"i":18113,"p":-4.48},{"i":18145,"p":-3.86},
    {"i":18192,"p":-3.49},{"i":18218,"p":-3.2},{"i":18226,"p":450},{"i":18234,"p":-3.05},{"i":18243,"p":-2.95},{"i":18251,"p":450},{"i":18259,"p":-2.9},{"i":18280,"p":-2.82},
    {"i":18288,"p":-5.84},{"i":18296,"p":-2.7},{"i":18335,"p":-2.19},{"i":18383,"p":-1.82},{"i":18402,"p":-1.45},{"i":18410,"p":450},{"i":18418,"p":-1.26},{"i":18455,"p":-1.2},
    {"i":18463,"p":-4.17},{"i":18471,"p":-1.15},{"i":18498,"p":-0.95},{"i":18506,"p":450},{"i":18514,"p":-0.85},{"i":18558,"p":-0.4},{"i":18586,"p":0.1},{"i":18594,"p":450},
    {"i":18602,"p":0.25},{"i":18649,"p":0.7},{"i":18657,"p":450},{"i":18665,"p":0.82},{"i":18688,"p":0.97},{"i":18696,"p":450},{"i":18704,"p":1.15},{"i":18717,"p":1.31},
    {"i":18742,"p":1.5},{"i":18750,"p":450},{"i":18758,"p":1.6},{"i":18770,"p":1.77},{"i":18796,"p":1.95},{"i":18804,"p":2.0},{"i":18812,"p":450},

    {"i":14770,"g":0.42},{"i":14790,"g":0.4},{"i":14797,"g":-1.1},{"i":14805,"g":0.66},{"i":14830,"g":0.55},{"i":14860,"g":0.6},{"i":14900,"g":0.55},{"i":14940,"g":0.62},
    {"i":14980,"g":0.58},{"i":15020,"g":0.65},{"i":15069,"g":0.66},{"i":15100,"g":0.55},{"i":15130,"g":0.47},{"i":15160,"g":0.55},{"i":15196,"g":0.6},{"i":15240,"g":0.65},
    {"i":15291,"g":0.72},{"i":15330,"g":0.8},{"i":15370,"g":0.91},{"i":15400,"g":1.0},{"i":15434,"g":1.09},{"i":15460,"g":1.25},{"i":15482,"g":1.4},{"i":15507,"g":1.64},
    {"i":15529,"g":1.77},{"i":15545,"g":2.3},{"i":15560,"g":1.45},{"i":15577,"g":1.5},{"i":15600,"g":2.3},{"i":15620,"g":1.55},{"i":15640,"g":1.9},{"i":15673,"g":2.39},
    {"i":15700,"g":2.45},{"i":15737,"g":2.57},{"i":15770,"g":2.7},{"i":15800,"g":2.76},{"i":15848,"g":2.88},{"i":15895,"g":3.25},{"i":15943,"g":3.69},{"i":15991,"g":3.93},
    {"i":16039,"g":4.12},{"i":16086,"g":4.49},{"i":16118,"g":4.68},{"i":16150,"g":4.86},{"i":16182,"g":4.77},{"i":16220,"g":4.62},{"i":16262,"g":4.49},{"i":16293,"g":4.24},
    {"i":16325,"g":4.06},{"i":16357,"g":3.93},{"i":16389,"g":3.75},{"i":16420,"g":3.63},{"i":16442,"g":3.25},{"i":16484,"g":3.19},{"i":16531,"g":3.01},{"i":16563,"g":2.88},
    {"i":16595,"g":2.7},{"i":16643,"g":2.57},{"i":16690,"g":2.51},{"i":16722,"g":2.39},{"i":16786,"g":2.08},{"i":16850,"g":1.89},{"i":16898,"g":1.77},{"i":16945,"g":1.58},
    {"i":16993,"g":1.4},{"i":17041,"g":1.03},{"i":17105,"g":0.78},{"i":17168,"g":0.45},{"i":17232,"g":0.28},{"i":17264,"g":-0.03},{"i":17328,"g":-0.15},{"i":17359,"g":-0.34},
    {"i":17423,"g":-0.52},{"i":17486,"g":-0.77},{"i":17550,"g":-1.02},{"i":17613,"g":-1.2},{"i":17677,"g":-1.33},{"i":17740,"g":-1.45},{"i":17804,"g":-1.54},{"i":17867,"g":-1.57},
    {"i":17931,"g":-1.55},{"i":17994,"g":-1.62},{"i":18058,"g":-1.64},{"i":18121,"g":-1.58},{"i":18185,"g":-1.6},{"i":18248,"g":-1.55},{"i":18312,"g":-1.45},{"i":18375,"g":-1.33},
    {"i":18439,"g":-1.14},{"i":18502,"g":-0.96},{"i":18558,"g":-0.89},{"i":18590,"g":-0.77},{"i":18621,"g":-0.58},{"i":18669,"g":-0.52},{"i":18717,"g":-0.34},{"i":18765,"g":-0.12},
    {"i":18796,"g":0.04},{"i":18812,"g":0.08}
  ]},
  "resolve": {"axis": {"x": "independent", "y": "independent"}},
  "layer": [
    {
      "transform": [{"filter": "isValid(datum.p)"}],
      "mark": {"type": "line", "color": "#d9389d", "strokeWidth": 2.2, "clip": true},
      "encoding": {
        "x": {
          "field": "i", "type": "quantitative",
          "scale": {"domain": [-759, 19930], "nice": false, "zero": false},
          "axis": {
            "orient": "bottom",
            "values": [0,1000,2000,3000,4000,5000,6000,7000,8000,9000,10000,11000,12000,13000,14000,15000,16000,17000,18000,19000],
            "labelExpr": "datum.value % 5000 === 0 ? toString(datum.value) : ''",
            "tickSize": {"condition": {"test": "datum.value % 5000 === 0", "value": -10}, "value": -4},
            "tickColor": "black", "tickWidth": 1.5,
            "domainColor": "black", "domainWidth": 1.5,
            "grid": true,
            "gridColor": {"condition": {"test": "datum.value === 0", "value": "#c4c4c4"}, "value": "#cfcfcf"},
            "gridDash": {"condition": {"test": "datum.value === 0", "value": []}, "value": [2, 3]},
            "gridOpacity": {"condition": {"test": "datum.value % 5000 === 0", "value": 1}, "value": 0},
            "labelFontSize": 28, "labelColor": "black", "labelPadding": 20,
            "labelOverlap": false, "labelFlush": false, "labelBound": false,
            "title": "Index", "titleFontSize": 28, "titleFontWeight": "normal", "titleColor": "black",
            "titleBaseline": "top", "titleY": 31
          }
        },
        "y": {
          "field": "p", "type": "quantitative",
          "scale": {"domain": [-6.12, 15], "nice": false, "zero": false},
          "axis": {
            "orient": "left",
            "values": [-6,-5,-4,-3,-2,-1,0,1,2,3,4,5,6,7,8,9,10,11,12,13,14,15],
            "labelExpr": "datum.value % 5 === 0 ? toString(datum.value) : ''",
            "tickSize": {"condition": {"test": "datum.value % 5 === 0", "value": -10}, "value": -4},
            "tickColor": "black", "tickWidth": 1.5,
            "domainColor": "black", "domainWidth": 1.5,
            "grid": false,
            "labelFontSize": 24, "labelColor": "#72d530", "labelPadding": 22,
            "labelOverlap": false, "labelFlush": false, "labelBound": false,
            "title": null
          }
        }
      }
    },
    {
      "transform": [{"filter": "isValid(datum.g)"}],
      "mark": {"type": "line", "color": "#74d92f", "strokeWidth": 2.2, "clip": true},
      "encoding": {
        "x": {
          "field": "i", "type": "quantitative",
          "scale": {"domain": [-759, 19930], "nice": false, "zero": false},
          "axis": {
            "orient": "top",
            "values": [0,1000,2000,3000,4000,5000,6000,7000,8000,9000,10000,11000,12000,13000,14000,15000,16000,17000,18000,19000],
            "labels": false,
            "tickSize": {"condition": {"test": "datum.value % 5000 === 0", "value": -10}, "value": -4},
            "tickColor": "black", "tickWidth": 1.5,
            "domainColor": "black", "domainWidth": 1.5,
            "grid": false, "title": null
          }
        },
        "y": {
          "field": "g", "type": "quantitative",
          "scale": {"domain": [-6.12, 15], "nice": false, "zero": false},
          "axis": null
        }
      }
    },
    {
      "transform": [{"filter": "isValid(datum.b)"}],
      "mark": {"type": "line", "color": "#4e3ad9", "strokeWidth": 2.2, "clip": true},
      "encoding": {
        "x": {
          "field": "i", "type": "quantitative",
          "scale": {"domain": [-759, 19930], "nice": false, "zero": false},
          "axis": null
        },
        "y": {
          "field": "b", "type": "quantitative",
          "scale": {"domain": [-6.12, 15], "nice": false, "zero": false},
          "axis": null
        }
      }
    }
  ]
}
